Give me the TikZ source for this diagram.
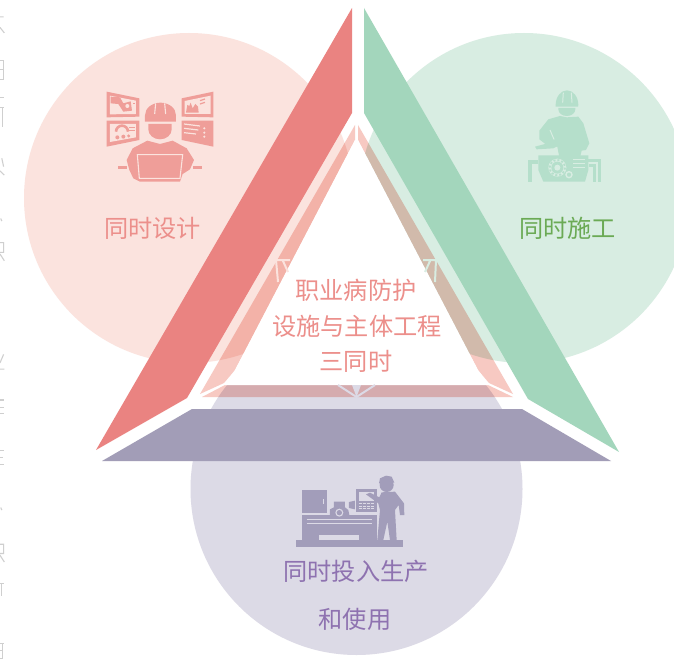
\documentclass[tikz,border=0pt]{standalone}
\usepackage{fontspec}
\newfontfamily\cjk{Noto Sans CJK SC}
\definecolor{cpink}{HTML}{FBE3DE}
\definecolor{cgreen}{HTML}{D8EDE2}
\definecolor{clilac}{HTML}{DCDAE6}
\definecolor{wred}{HTML}{EA8381}
\definecolor{wgreen}{HTML}{A3D6BC}
\definecolor{wpurple}{HTML}{A29DB7}
\definecolor{bandc}{HTML}{F7C9C2}
\definecolor{icpink}{HTML}{EF9E99}
\definecolor{icgreen}{HTML}{B5DFCB}
\definecolor{icpurple}{HTML}{A29DBA}
\definecolor{tpink}{HTML}{EC8F8B}
\definecolor{tgreen}{HTML}{6BAA55}
\definecolor{tpurple}{HTML}{8E72B0}
\definecolor{edge}{HTML}{CFCFCF}
\tikzset{
  lbl/.style={inner sep=0pt,font=\cjk\fontsize{24.2}{25}\selectfont},
  bandfill/.style={fill=bandc,blend mode=multiply},
  gapline/.style={line width=2pt},
  fragline/.style={draw=edge,line width=1.1pt}
}
\begin{document}
\begin{tikzpicture}[x=1pt,y=-1pt]
\useasboundingbox (0,0) rectangle (674,658);
\clip (0,0) rectangle (674,658);
\fill[white] (0,0) rectangle (674,658);
% clipped text at left edge
\begin{scope}[xscale=.36,yscale=.4219]
\draw[fragline] (0,40)--(10,40) (0,65)--(12,78);
\draw[fragline] (0,143)--(10,143)--(10,188)--(0,188) (0,165)--(10,165);
\draw[fragline] (0,232)--(12,232) (0,255)--(10,255) (8,255)--(8,300);
\draw[fragline] (5,375)--(10,395) (0,405)--(12,415);
\draw[fragline] (2,518)--(5,524);
\draw[fragline] (0,575)--(10,575)--(10,598)--(0,598) (0,602)--(12,618);
\draw[fragline] (10,840)--(0,860) (0,875)--(12,875);
\draw[fragline] (0,948)--(10,948) (0,965)--(12,965) (0,980)--(12,980);
\draw[fragline] (0,1068)--(10,1068) (0,1085)--(8,1085) (0,1100)--(12,1100);
\draw[fragline] (2,1203)--(5,1209);
\draw[fragline] (0,1290)--(10,1290)--(10,1312)--(0,1312) (0,1316)--(12,1332);
\draw[fragline] (0,1382)--(10,1382) (3,1382)--(3,1412);
\draw[fragline] (0,1525)--(12,1525) (8,1525)--(8,1560) (0,1542)--(8,1542) (0,1560)--(8,1560);
\end{scope}
% circles
\fill[cpink] (189,198) circle (165);
\fill[cgreen] (524,198) circle (165);
\fill[clilac] (356.5,489) circle (166);
% inner translucent bands
\fill[bandfill] (355,125)--(355,140)--(235,370)--(224,383)--(200,394)--cycle;
\fill[bandfill] (358,125)--(358,140)--(478,370)--(489,383)--(513,394)--cycle;
\fill[bandfill] (202,397)--(225,385)--(488,385)--(513,397)--cycle;
\fill[white] (355,140)--(358,140)--(478,370)--(489,385)--(225,385)--(235,370)--cycle;
% hairline gaps in the bands
\draw[cpink,gapline] (275,260)--(290,260) (276,260)--(278,282) (283,261)--(288,272);
\draw[cgreen,gapline] (423,260)--(437,260) (436,260)--(435,282) (430,261)--(425,272);
\draw[clilac,gapline] (338,385)--(356.5,397)--(375,385);
\fill[clilac] (352,385)--(361,385)--(356.5,397)--cycle;
% outer wedges
\fill[wred] (352,8)--(352,113)--(187,398)--(96,450)--cycle;
\fill[wgreen] (364,8)--(364,113)--(528,399)--(619,452)--cycle;
\fill[wpurple] (192,409)--(522,409)--(611,461)--(102,461)--cycle;
% designer icon
\begin{scope}[shift={(90,80)},scale=.3333]
\fill[icpink] (50,35)--(148,55)--(148,110)--(50,112)--cycle;
\fill[icpink] (50,122)--(148,122)--(148,180)--(50,200)--cycle;
\fill[icpink] (275,55)--(370,35)--(370,112)--(275,110)--cycle;
\fill[icpink] (275,122)--(370,122)--(370,200)--(275,180)--cycle;
\fill[cpink] (60,47)--(138,62)--(138,102)--(60,103)--cycle;
\fill[icpink] (62,50)--(90,52)--(100,70)--(122,64)--(126,92)--(100,95)--(85,72)--(62,70)--cycle;
\fill[cpink] (112,78) circle (6);
\fill[icpink] (128,68)--(136,68)--(136,72)--(128,72)--cycle;
\fill[cpink] (60,132)--(138,132)--(138,172)--(60,186)--cycle;
\draw[icpink,line width=2.6pt] (78,155) arc (180:360:18);
\fill[icpink] (82,172) circle (6) (100,170) circle (6) (116,168) circle (5);
\draw[icpink,line width=1.2pt] (118,143)--(136,143) (118,152)--(136,152);
\fill[cpink] (284,63)--(362,47)--(362,102)--(284,102)--cycle;
\fill[icpink] (288,98)--(292,75)--(298,78)--(302,68)--(308,85)--(316,72)--(324,80)--(326,98)--cycle;
\draw[icpink,line width=1.2pt] (330,62)--(345,57) (330,72)--(345,67);
\draw[cpink,line width=1.2pt] (282,132)--(330,138) (282,145)--(325,150) (282,158)--(318,162);
\fill[cpink] (343,145) circle (3.5) (343,158) circle (3.5) (343,170) circle (3.5);
% person
\fill[icpink] (165,125)--(165,106) arc (180:360:46.5 and 38)--(258,125)--cycle;
\draw[cpink,line width=1.1pt] (197,70)--(194,102) (224,70)--(227,102);
\fill[icpink] (175,132)--(245,132)--(245,148) arc (0:180:35 and 30)--cycle;
\fill[icpink] (110,240)--(128,205)--(172,182)--(210,192)--(248,182)--(290,205)--(312,240)--(300,268)--(278,282)--(270,305)--(150,305)--(130,295)--(118,270)--cycle;
\fill[icpink] (85,257)--(112,257)--(112,268)--(85,268)--cycle;
\fill[icpink] (308,257)--(335,257)--(335,268)--(308,268)--cycle;
\draw[cpink,line width=1.1pt] (148,295)--(142,224)--(278,224)--(270,295)--cycle;
\end{scope}
% builder icon
\begin{scope}[shift={(500,80)},scale=.3333]
\fill[icgreen] (167,75) arc (180:360:34 and 44)--(234,80)--(167,80)--cycle;
\draw[cgreen,line width=1pt] (190,38)--(188,68) (214,38)--(216,68);
\fill[icgreen] (175,84)--(226,84)--(226,88) arc (0:180:25.5 and 20)--cycle;
\fill[icgreen] (118,152)--(145,118)--(180,108)--(200,112)--(235,110)--(250,130)--(268,190)--(258,210)--(245,212)--(240,232)--(178,232)--(172,200)--(140,195)--(118,178)--cycle;
\draw[cgreen,line width=1pt] (150,150)--(165,185);
\fill[icgreen] (105,200)--(150,188)--(162,178)--(178,180)--(180,195)--(160,205)--(110,208)--cycle;
\fill[icgreen] (115,226)--(265,226)--(265,270)--(255,305)--(130,305)--(115,270)--cycle;
\draw[icgreen,line width=3.2pt] (115,246)--(90,246)--(90,306);
\draw[icgreen,line width=3pt] (265,243)--(300,243)--(300,306);
\draw[icgreen,line width=3pt] (268,258)--(285,258)--(285,306);
\fill[cgreen] (172,263) circle (27);
\fill[icgreen] (172,263) circle (18);
\fill[cgreen] (172,263) circle (9);
\draw[icgreen,line width=1.8pt,dash pattern=on 2pt off 2pt] (172,263) circle (23);
\draw[cgreen,line width=1.4pt] (207,284) circle (9);
\draw[cgreen,line width=1pt] (220,240)--(256,240) (220,252)--(256,252) (220,264)--(256,264);
\end{scope}
% lathe icon
\begin{scope}[shift={(280,460)},scale=.3333]
\fill[icpurple] (47,240)--(368,240)--(368,262)--(47,262)--cycle;
\fill[icpurple] (65,165)--(290,165)--(290,240)--(65,240)--cycle;
\fill[clilac] (118,226)--(238,226)--(238,240)--(118,240)--cycle;
\draw[clilac,line width=1pt] (80,178)--(275,178) (80,191)--(275,191);
\fill[icpurple] (67,90)--(140,90)--(140,158)--(67,158)--cycle;
\fill[clilac] (128,117)--(133,117)--(133,132)--(128,132)--cycle;
\fill[icpurple] (150,165)--(150,148)--(162,142)--(162,125)--(195,125)--(195,142)--(205,150)--(208,165)--cycle;
\fill[clilac] (178,158) circle (12);
\fill[icpurple] (178,158) circle (8);
\fill[icpurple] (207,126)--(225,122)--(225,148)--(207,144)--cycle;
\fill[icpurple] (228,88)--(290,88)--(290,155)--(228,155)--cycle;
\fill[clilac] (236,96)--(282,96)--(282,122)--(236,122)--cycle;
\draw[clilac,line width=1pt,dash pattern=on 3pt off 1pt] (236,130)--(282,130) (236,138)--(282,138) (236,146)--(282,146);
\fill[icpurple] (320,75) circle (21);
\fill[icpurple] (297,70)--(300,55)--(318,47)--(335,50)--(343,68)--cycle;
\fill[icpurple] (258,103)--(270,98)--(298,112)--(305,97)--(345,95)--(372,130)--(373,165)--(360,165)--(356,135)--(345,150)--(350,240)--(330,240)--(322,185)--(310,240)--(292,240)--(300,150)--(295,130)--cycle;
\end{scope}
% labels
\node[lbl,text=tpink] (design) at (152.5,228) {同时设计};
\node[lbl,text=tgreen] (build) at (567.5,228) {同时施工};
\node[lbl,text=tpurple] (use1) at (356,571) {同时投入生产};
\node[lbl,text=tpurple] (use2) at (355,619) {和使用};
\node[lbl,text=tpink] (c1) at (356,290) {职业病防护};
\node[lbl,text=tpink] (c2) at (357,326) {设施与主体工程};
\node[lbl,text=tpink] (c3) at (356,361) {三同时};
\end{tikzpicture}
\end{document}
